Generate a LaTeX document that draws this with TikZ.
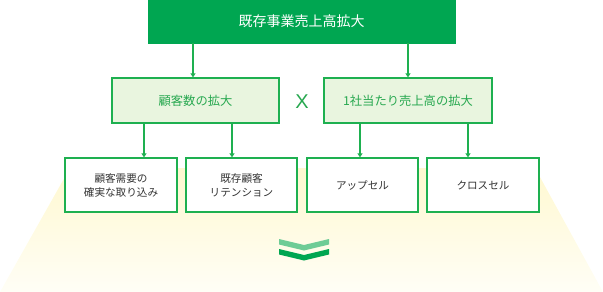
\documentclass[tikz,border=0pt]{standalone}
\usepackage{fontspec}
\setmainfont{Noto Sans CJK JP}
\newfontfamily\latinsans{Liberation Sans}
\usetikzlibrary{arrows.meta}
\definecolor{gmain}{RGB}{0,166,81}
\definecolor{gline}{RGB}{30,176,80}
\definecolor{gfill}{RGB}{233,245,223}
\definecolor{gtext}{RGB}{40,168,80}
\definecolor{glight}{RGB}{110,204,150}
\definecolor{ytop}{RGB}{255,248,208}
\definecolor{ybot}{RGB}{255,254,246}
\definecolor{tdark}{RGB}{51,51,51}
\begin{document}
\begin{tikzpicture}[x=1pt,y=-1pt,
  topbox/.style={fill=gmain,draw=gmain,text=white,minimum width=307pt,minimum height=43pt,inner sep=0pt,font=\fontsize{14}{16}\selectfont},
  midbox/.style={fill=gfill,draw=gline,line width=1.3pt,text=gtext,minimum width=167pt,minimum height=45pt,inner sep=0pt,font=\fontsize{12.3}{14}\selectfont},
  botbox/.style={fill=white,draw=gline,line width=1.3pt,text=tdark,minimum width=111pt,minimum height=54pt,inner sep=0pt,align=center,font=\fontsize{10.6}{14}\selectfont},
  arr/.style={draw=gline,line width=1.1pt,-{Triangle[width=5pt,length=4pt]}}]
\useasboundingbox (0,0) rectangle (603,292);
\shade[top color=ytop,bottom color=ybot] (70,168) -- (535,168) -- (603,292) -- (0,292) -- cycle;
\node[topbox] (top) at (301.5,21.5) {既存事業売上高拡大};
\node[midbox] (m1) at (195.5,100.5) {顧客数の拡大};
\node[midbox,minimum width=168pt] (m2) at (408,100.5) {1社当たり売上高の拡大};
\node[text=gtext,font=\latinsans\fontsize{20}{20}\selectfont] (x) at (302,102) {X};
\node[botbox,minimum width=112pt] (b1) at (121,185) {顧客需要の\\確実な取り込み};
\node[botbox] (b2) at (241.5,185) {既存顧客\\リテンション};
\node[botbox] (b3) at (362.5,185) {アップセル};
\node[botbox,minimum width=112pt] (b4) at (483,185) {クロスセル};
\draw[arr] (top.south -| 193,0) -- (193,0 |- m1.north);
\draw[arr] (top.south -| 408,0) -- (408,0 |- m2.north);
\draw[arr] (m1.south -| 144,0) -- (144,0 |- b1.north);
\draw[arr] (m1.south -| 232,0) -- (232,0 |- b2.north);
\draw[arr] (m2.south -| 360,0) -- (360,0 |- b3.north);
\draw[arr] (m2.south -| 468,0) -- (468,0 |- b4.north);
\fill[glight] (279,239) -- (304,245) -- (329,239) -- (329,244.5) -- (304,250.5) -- (279,244.5) -- cycle;
\fill[gmain] (279,249) -- (304,255) -- (329,249) -- (329,254.5) -- (304,260.5) -- (279,254.5) -- cycle;
\end{tikzpicture}
\end{document}
